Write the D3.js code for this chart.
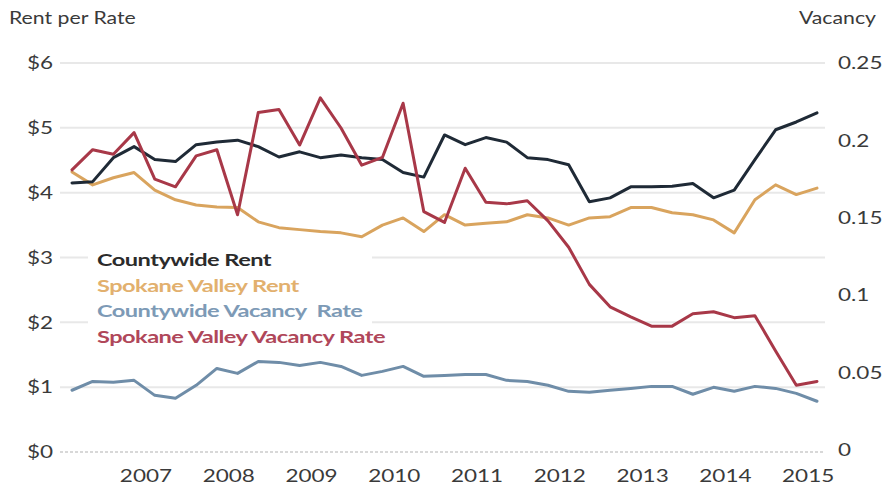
<!DOCTYPE html>
<html><head><meta charset="utf-8">
<script src="https://cdn.jsdelivr.net/npm/d3@7"></script>
<style>body{margin:0;background:#fff}svg{display:block}text{font-family:Lato,"Open Sans",sans-serif}</style>
</head><body><svg id="c" width="887" height="486"></svg>
<script>
const quarters = ["2006Q3","2006Q4","2007Q1","2007Q2","2007Q3","2007Q4","2008Q1","2008Q2","2008Q3","2008Q4","2009Q1","2009Q2","2009Q3","2009Q4","2010Q1","2010Q2","2010Q3","2010Q4","2011Q1","2011Q2","2011Q3","2011Q4","2012Q1","2012Q2","2012Q3","2012Q4","2013Q1","2013Q2","2013Q3","2013Q4","2014Q1","2014Q2","2014Q3","2014Q4","2015Q1","2015Q2","2015Q3"];
const yearLabels = ["2007","2008","2009","2010","2011","2012","2013","2014","2015"];
const rentTicks = [0,1,2,3,4,5,6];
const vacTicks = [0,0.05,0.1,0.15,0.2,0.25];
const countyRent = [4.15,4.17,4.54,4.71,4.51,4.48,4.74,4.78,4.81,4.71,4.55,4.63,4.54,4.58,4.54,4.51,4.31,4.24,4.89,4.74,4.85,4.78,4.54,4.51,4.43,3.86,3.92,4.09,4.09,4.10,4.14,3.92,4.04,4.51,4.97,5.09,5.23];
const valleyRent = [4.32,4.12,4.23,4.31,4.04,3.89,3.81,3.78,3.77,3.55,3.46,3.43,3.40,3.38,3.32,3.50,3.61,3.40,3.66,3.50,3.53,3.55,3.66,3.61,3.50,3.61,3.63,3.77,3.77,3.69,3.66,3.58,3.38,3.89,4.12,3.97,4.07];
const countyVac = [0.0386,0.0443,0.0437,0.045,0.0353,0.0334,0.0418,0.0527,0.0495,0.0572,0.0566,0.0546,0.0566,0.054,0.0482,0.0508,0.054,0.0476,0.0482,0.0488,0.0488,0.045,0.0443,0.0418,0.0379,0.0373,0.0386,0.0398,0.0411,0.0411,0.036,0.0405,0.0379,0.0411,0.0398,0.0366,0.0315];
const valleyVac = [0.181,0.194,0.191,0.205,0.175,0.170,0.190,0.194,0.152,0.218,0.220,0.197,0.2275,0.208,0.184,0.189,0.224,0.154,0.147,0.182,0.160,0.159,0.161,0.148,0.131,0.107,0.0925,0.086,0.080,0.080,0.088,0.0893,0.0855,0.0868,0.064,0.0418,0.0443];
const seriesNames = ["Countywide Rent","Spokane Valley Rent","Countywide Vacancy  Rate","Spokane Valley Vacancy Rate"];
const lineColors = ["#1f2a36","#d9a45e","#6f8da8","#a83848"];
const legendColors = ["#2b2b2b","#e2b06e","#7d9ab6","#b0475a"];

const SX = 1.25; // horizontal stretch of the reference lettering
const svg = d3.select("#c");
const x = d3.scaleLinear().domain([0, quarters.length-1]).range([72, 817]);
const yL = d3.scaleLinear().domain([0,6]).range([452, 63]);
const yR = d3.scaleLinear().domain([0,0.25]).range([450, 63]);

// gridlines
svg.append("g").selectAll("line").data(rentTicks).join("line")
  .attr("x1",60).attr("x2",825).attr("y1",d=>yL(d)).attr("y2",d=>yL(d))
  .attr("stroke",d=>d===0?"#d8d8d8":"#e8e8e8").attr("stroke-width",2)
  .attr("stroke-dasharray",d=>d===0?"3,2":null);

function styleTicks(g){
  g.select(".domain").remove();
  g.selectAll("text").attr("font-size",18).attr("fill","#3a3a3a").attr("font-family","Lato")
    .attr("transform",`scale(${SX},1)`);
}
// left axis
const axL = d3.axisLeft(yL).tickValues(rentTicks).tickFormat(d=>"$"+d).tickSize(0).tickPadding(0);
svg.append("g").attr("transform","translate(53,0)").call(axL).call(styleTicks);

// right axis
const axR = d3.axisRight(yR).tickValues(vacTicks).tickFormat(d=>d===0?"0":String(d)).tickSize(0).tickPadding(0);
svg.append("g").attr("transform","translate(838,0)").call(axR).call(styleTicks);

// x axis labels
const yearPos = yearLabels.map((y,i)=>3.5+4*i);
const axX = d3.axisBottom(x).tickValues(yearPos).tickFormat((d,i)=>yearLabels[i]).tickSize(0).tickPadding(0);
svg.append("g").attr("transform","translate(1,469)").call(axX).call(styleTicks);

// titles
svg.append("text").attr("transform",`translate(9,24) scale(${SX},1)`).attr("font-size",17).attr("fill","#3a3a3a").text("Rent per Rate");
svg.append("text").attr("transform",`translate(876,24) scale(${SX},1)`).attr("text-anchor","end").attr("font-size",17).attr("fill","#3a3a3a").text("Vacancy");

// legend background
svg.append("rect").attr("x",88).attr("y",242).attr("width",284).attr("height",100).attr("fill","#fff");

// lines
const lineL = d3.line().x((d,i)=>x(i)).y(d=>yL(d));
const lineR = d3.line().x((d,i)=>x(i)).y(d=>yR(d));
const drawn = [[countyVac,lineR,2],[valleyRent,lineL,1],[countyRent,lineL,0],[valleyVac,lineR,3]];
drawn.forEach(([data,gen,ci])=>{
  svg.append("path").attr("d",gen(data)).attr("fill","none").attr("stroke",lineColors[ci])
    .attr("stroke-width",3).attr("stroke-linejoin","round").attr("stroke-linecap","round");
});

// legend
svg.append("g").selectAll("text").data(seriesNames).join("text")
  .attr("transform",(d,i)=>`translate(97,${266+i*25.6}) scale(1.35,1)`)
  .attr("font-size",17.5).attr("font-weight","bold").attr("fill",(d,i)=>legendColors[i])
  .attr("letter-spacing",-0.4).attr("xml:space","preserve")
  .text(d=>d);
</script></body></html>
